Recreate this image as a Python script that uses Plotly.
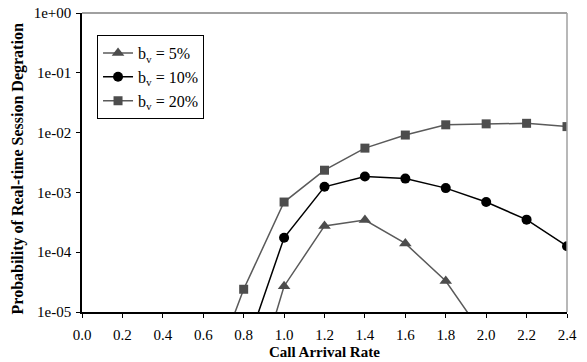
import plotly.graph_objects as go

bv5_x = [0.8, 1.0, 1.2, 1.4, 1.6, 1.8, 2.0]
bv5 = [1.5e-7, 2.7e-5, 2.75e-4, 3.45e-4, 1.4e-4, 3.3e-5, 3.5e-6]

bv10_x = [0.8, 1.0, 1.2, 1.4, 1.6, 1.8, 2.0, 2.2, 2.4]
bv10 = [1.9e-6, 1.74e-4, 1.24e-3, 1.85e-3, 1.7e-3, 1.18e-3, 6.9e-4, 3.5e-4, 1.26e-4]

bv20_x = [0.6, 0.8, 1.0, 1.2, 1.4, 1.6, 1.8, 2.0, 2.2, 2.4]
bv20 = [3.8e-7, 2.4e-5, 6.9e-4, 2.35e-3, 5.5e-3, 9.1e-3, 1.35e-2, 1.4e-2, 1.43e-2, 1.26e-2]

x_ticks = [0.0, 0.2, 0.4, 0.6, 0.8, 1.0, 1.2, 1.4, 1.6, 1.8, 2.0, 2.2, 2.4]
x_ticktext = ["0.0", "0.2", "0.4", "0.6", "0.8", "1.0", "1.2", "1.4", "1.6", "1.8", "2.0", "2.2", "2.4"]
y_ticks = [1e-5, 1e-4, 1e-3, 1e-2, 1e-1, 1e0]
y_ticktext = ["1e-05", "1e-04", "1e-03", "1e-02", "1e-01", "1e+00"]

FONT = "Liberation Serif"

fig = go.Figure()
fig.add_trace(go.Scatter(x=bv5_x, y=bv5, mode="lines+markers", name="b<sub>v</sub> = 5%",
                         line=dict(color="#5a5a5a", width=1.5),
                         marker=dict(symbol="triangle-up", size=11, color="#4d4d4d")))
fig.add_trace(go.Scatter(x=bv10_x, y=bv10, mode="lines+markers", name="b<sub>v</sub> = 10%",
                         line=dict(color="#000000", width=1.5),
                         marker=dict(symbol="circle", size=10, color="#000000")))
fig.add_trace(go.Scatter(x=bv20_x, y=bv20, mode="lines+markers", name="b<sub>v</sub> = 20%",
                         line=dict(color="#5a5a5a", width=1.5),
                         marker=dict(symbol="square", size=9, color="#4d4d4d")))

fig.update_layout(
    width=579, height=354,
    margin=dict(l=74, r=20, t=5, b=50),
    plot_bgcolor="white", paper_bgcolor="white",
    font=dict(family=FONT, size=15, color="black"),
    showlegend=True,
    legend=dict(x=0.031, y=0.926, xanchor="left", yanchor="top",
                bordercolor="black", borderwidth=1, bgcolor="white",
                font=dict(family=FONT, size=16), tracegroupgap=0, itemwidth=30),
    xaxis=dict(range=[0, 2.4], tickvals=x_ticks, ticktext=x_ticktext, automargin=False,
               showgrid=False, zeroline=False, showline=True, linecolor="black", linewidth=1.5,
               ticks="outside", ticklen=4, tickcolor="black", tickfont=dict(size=15),
               ticklabelstandoff=4),
    yaxis=dict(type="log", range=[-5, 0], tickvals=y_ticks, ticktext=y_ticktext, automargin=False,
               showgrid=False, zeroline=False, showline=True, linecolor="black", linewidth=1.5,
               ticks="outside", ticklen=4, tickcolor="black", tickfont=dict(size=15),
               ticklabeloverflow="allow", ticklabelstandoff=2),
    annotations=[
        dict(text="<b>Probability of Real-time Session Degration</b>", textangle=-90,
             xref="paper", yref="paper", x=-0.132, y=0.48, xanchor="center", yanchor="middle",
             showarrow=False, font=dict(family=FONT, size=16)),
        dict(text="<b>Call Arrival Rate</b>",
             xref="paper", yref="paper", x=0.5, y=-0.1338, xanchor="center", yanchor="middle",
             showarrow=False, font=dict(family=FONT, size=15)),
    ],
    shapes=[
        dict(type="line", xref="paper", yref="paper", x0=0, x1=1, y0=1, y1=1,
             line=dict(color="#808080", width=1.5)),
        dict(type="line", xref="paper", yref="paper", x0=1, x1=1, y0=0, y1=1,
             line=dict(color="#a0a0a0", width=1.5)),
    ],
)

fig.write_html("out.html")
